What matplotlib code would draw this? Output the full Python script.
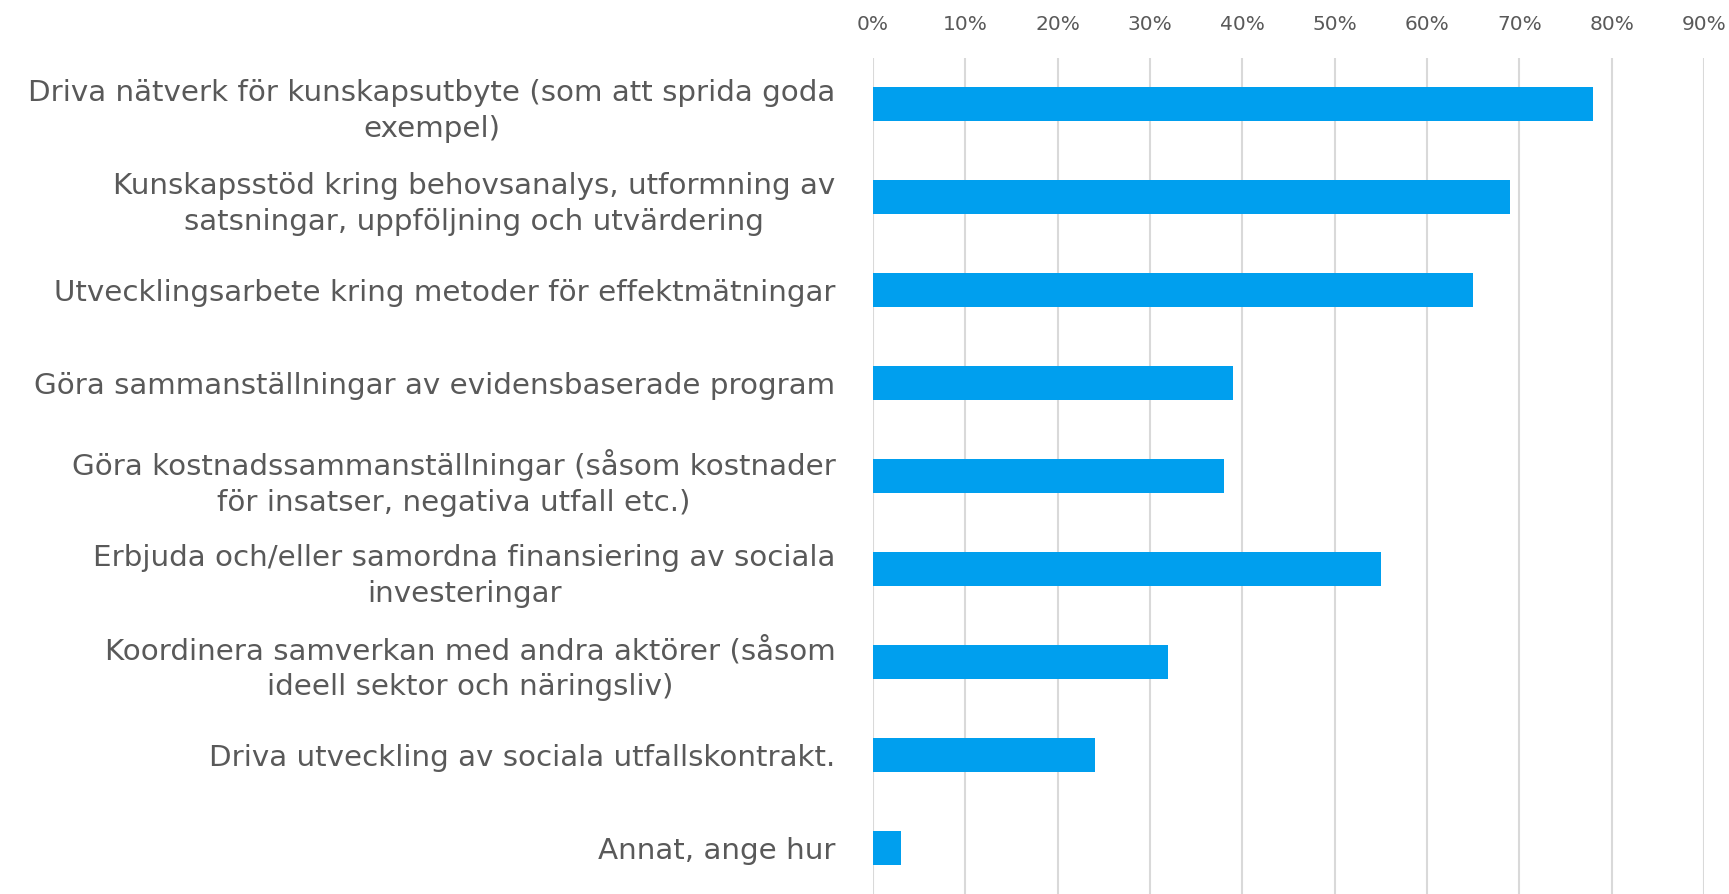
import matplotlib
matplotlib.use("Agg")
import matplotlib.pyplot as plt
from matplotlib.ticker import FuncFormatter, MultipleLocator

# categories (top to bottom) and shares
categories = [
    "Driva nätverk för kunskapsutbyte (som att sprida goda\nexempel)",
    "Kunskapsstöd kring behovsanalys, utformning av\nsatsningar, uppföljning och utvärdering",
    "Utvecklingsarbete kring metoder för effektmätningar",
    "Göra sammanställningar av evidensbaserade program",
    "Göra kostnadssammanställningar (såsom kostnader\nför insatser, negativa utfall etc.)",
    "Erbjuda och/eller samordna finansiering av sociala\ninvesteringar",
    "Koordinera samverkan med andra aktörer (såsom\nideell sektor och näringsliv)",
    "Driva utveckling av sociala utfallskontrakt.",
    "Annat, ange hur",
]
values = [0.78, 0.69, 0.65, 0.39, 0.38, 0.55, 0.32, 0.24, 0.03]

BAR = "#009FEE"
GRID = "#D9D9D9"
TEXT = "#595959"

fig = plt.figure(figsize=(17.29, 8.94), dpi=100)
ax = fig.add_axes([873 / 1729, 0.0, (1704 - 873) / 1729, 836 / 894])

pos = list(range(len(categories)))
ax.barh(pos, values, height=0.365, color=BAR, zorder=3)

ax.set_xlim(0, 0.9)
ax.set_ylim(len(categories) - 0.5, -0.5)

ax.xaxis.set_major_locator(MultipleLocator(0.1))
ax.xaxis.set_major_formatter(FuncFormatter(lambda v, p: f"{v * 100:.0f}%"))
ax.xaxis.tick_top()
ax.grid(axis="x", color=GRID, linewidth=1.5, zorder=0)
ax.set_axisbelow(True)

for s in ax.spines.values():
    s.set_visible(False)

ax.set_yticks(pos)
ax.set_yticklabels(categories)
ax.tick_params(axis="y", length=0, pad=27, labelsize=21.2, labelcolor=TEXT)
ax.tick_params(axis="x", length=0, pad=17, labelsize=14.5, labelcolor=TEXT)
for lbl in ax.get_yticklabels():
    lbl.set_multialignment("center")
    lbl.set_linespacing(1.35)

fig.savefig("out.png", dpi=100, facecolor="white")
